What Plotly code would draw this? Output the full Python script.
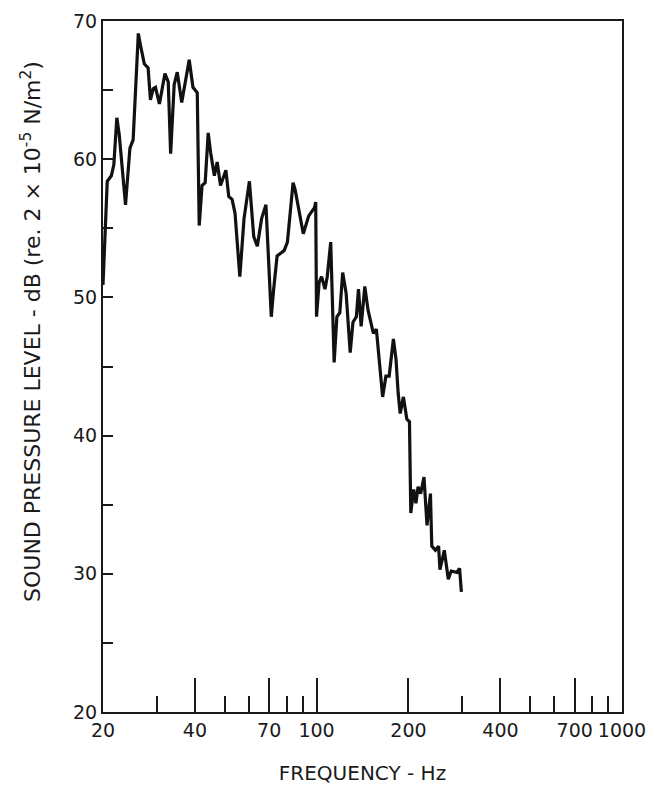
import plotly.graph_objects as go

freq_hz = [20.0, 20.3, 20.65, 21.3, 21.7, 22.2, 22.6, 23.7, 24.5, 25.1, 26.1, 26.5, 27.3, 28.1,
           28.6, 29.2, 29.7, 30.6, 31.1, 31.9, 32.7, 33.3, 34.2, 35.0, 36.2, 37.1, 38.3, 39.4,
           40.7, 41.3, 42.2, 43.2, 44.2, 45.0, 46.3, 47.3, 48.5, 50.5, 51.6, 52.9, 54.1, 56.1,
           57.9, 60.3, 62.3, 64.0, 66.1, 68.3, 71.1, 72.4, 74.3, 76.3, 78.4, 80.3, 83.8, 85.1,
           87.9, 90.5, 94.3, 98.5, 99.4, 100.0, 102.0, 103.9, 106.6, 108.4, 111.3, 114.2, 116.6,
           119.2, 121.8, 125.0, 128.9, 131.6, 135.0, 137.2, 140.0, 141.9, 143.9, 147.4, 150.6,
           153.5, 157.0, 160.4, 164.6, 168.7, 172.9, 178.5, 182.1, 185.0, 187.9, 192.5, 197.5,
           201.5, 203.5, 208.0, 211.5, 215.0, 219.2, 224.8, 230.0, 236.0, 238.4, 245.0, 251.0,
           253.5, 262.0, 270.0, 276.0, 288.0, 294.0, 298.0]
spl_db = [50.9, 54.1, 58.4, 58.8, 59.6, 63.0, 61.8, 56.7, 60.8, 61.4, 69.1, 68.3, 66.9, 66.6,
          64.3, 65.1, 65.2, 64.0, 64.95, 66.2, 65.6, 60.4, 65.4, 66.3, 64.1, 65.6, 67.2, 65.2,
          64.8, 55.2, 58.1, 58.3, 61.9, 60.5, 58.8, 59.8, 58.1, 59.2, 57.3, 57.1, 56.1, 51.5,
          55.7, 58.4, 54.4, 53.7, 55.7, 56.7, 48.6, 50.6, 53.0, 53.2, 53.4, 54.0, 58.3, 57.8,
          56.1, 54.6, 55.9, 56.5, 56.9, 48.6, 51.1, 51.5, 50.6, 51.5, 54.0, 45.3, 48.6,
          48.9, 51.8, 50.3, 46.0, 48.2, 48.6, 50.6, 47.9, 49.1, 50.8, 49.1, 48.2,
          47.4, 47.7, 45.7, 42.8, 44.3, 44.3, 47.0, 45.5, 43.1, 41.6, 42.8, 41.2,
          41.0, 34.4, 36.1, 35.1, 36.3, 35.8, 37.0, 33.5, 35.8, 32.0, 31.7, 32.0,
          30.3, 31.7, 29.6, 30.2, 30.1, 30.4, 28.7]

x_major_ticks = [20, 40, 70, 100, 200, 400, 700, 1000]
x_major_labels = ["20", "40", "70", "100", "200", "400", "700", "1000"]
x_minor_ticks = [30, 50, 60, 80, 90, 300, 500, 600, 800, 900]
y_ticks = [20, 30, 40, 50, 60, 70]

x_title = "FREQUENCY - Hz"
y_title = "SOUND PRESSURE LEVEL - dB (re. 2 \u00d7 10<sup>-5</sup> N/m<sup>2</sup>)"

FONT = "DejaVu Sans"
INK = "#1a1a1a"

fig = go.Figure()
fig.add_trace(go.Scatter(x=freq_hz, y=spl_db, mode="lines",
                         line=dict(color="#111111", width=3.2), showlegend=False,
                         hoverinfo="skip"))

fig.update_layout(
    width=654, height=786,
    margin=dict(l=103, r=32, t=21, b=74, autoexpand=False),
    paper_bgcolor="white", plot_bgcolor="white",
    font=dict(family=FONT, color=INK, size=20),
    xaxis=dict(
        type="log", range=[1.30103, 3.0], automargin=False,
        showgrid=False, zeroline=False,
        showline=True, linecolor=INK, linewidth=2, mirror=True,
        ticks="inside", ticklen=34, tickwidth=2, tickcolor=INK,
        tickvals=x_major_ticks, ticktext=x_major_labels,
        tickfont=dict(size=19, family=FONT, color=INK),
        minor=dict(tickvals=x_minor_ticks, ticks="inside", ticklen=16,
                   tickwidth=2, tickcolor=INK, showgrid=False),
        title=dict(text=x_title, font=dict(size=20, family=FONT, color=INK),
                   standoff=26),
    ),
    yaxis=dict(
        range=[20, 70], automargin=False,
        showgrid=False, zeroline=False,
        showline=True, linecolor=INK, linewidth=2, mirror=True,
        ticks="inside", ticklen=10, tickwidth=2, tickcolor=INK,
        tickvals=y_ticks,
        tickfont=dict(size=19, family=FONT, color=INK),
        minor=dict(dtick=5, ticks="inside", ticklen=10, tickwidth=2,
                   tickcolor=INK, showgrid=False),
    ),
    annotations=[dict(
        text=y_title, textangle=-90, showarrow=False,
        xref="paper", yref="paper",
        x=(31 - 103) / 519, y=(712 - 332) / 691,
        xanchor="center", yanchor="middle",
        font=dict(size=22, family=FONT, color=INK),
    )],
)

fig.write_html("out.html")
